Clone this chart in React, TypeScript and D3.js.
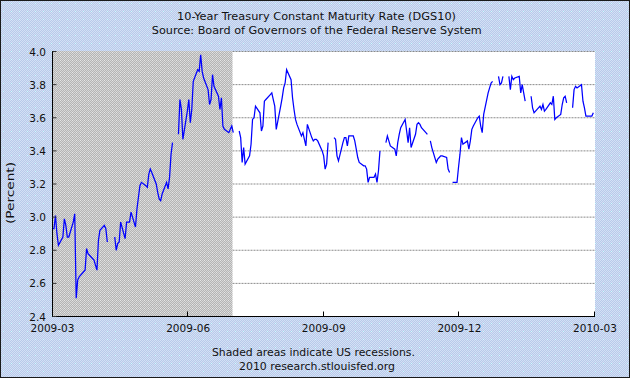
import React from "react";
import * as d3 from "d3";

const titleLines = [
  "10-Year Treasury Constant Maturity Rate (DGS10)",
  "Source: Board of Governors of the Federal Reserve System",
];
const footerLines = ["Shaded areas indicate US recessions.", "2010 research.stlouisfed.org"];
const yAxisLabel = "(Percent)";
const xTickLabels = ["2009-03", "2009-06", "2009-09", "2009-12", "2010-03"];
const yTicks = [2.4, 2.6, 2.8, 3.0, 3.2, 3.4, 3.6, 3.8, 4.0];
const xDomain = ["2009-03-02 00", "2010-03-03 03"];
const recession = ["2009-03-02 00", "2009-07-01 12"];

const dgs10: [string, number | null][] = [
  ["2009-03-02", 2.93], ["2009-03-03", 2.93], ["2009-03-04", 3.01], ["2009-03-05", 2.9], ["2009-03-06", 2.83],
  ["2009-03-09", 2.88], ["2009-03-10", 2.99], ["2009-03-11", 2.95], ["2009-03-12", 2.88], ["2009-03-13", 2.88],
  ["2009-03-16", 2.97], ["2009-03-17", 3.02], ["2009-03-18", 2.51], ["2009-03-19", 2.62], ["2009-03-20", 2.64],
  ["2009-03-23", 2.67], ["2009-03-24", 2.68], ["2009-03-25", 2.81], ["2009-03-26", 2.78], ["2009-03-27", 2.77],
  ["2009-03-30", 2.74], ["2009-03-31", 2.71], ["2009-04-01", 2.68], ["2009-04-02", 2.86], ["2009-04-03", 2.92],
  ["2009-04-06", 2.95], ["2009-04-07", 2.93], ["2009-04-08", 2.85], ["2009-04-09", null], ["2009-04-10", null],
  ["2009-04-13", 2.88], ["2009-04-14", 2.8], ["2009-04-15", 2.84], ["2009-04-16", 2.85], ["2009-04-17", 2.97],
  ["2009-04-20", 2.87], ["2009-04-21", 2.97], ["2009-04-22", 2.97], ["2009-04-23", 2.97], ["2009-04-24", 3.03],
  ["2009-04-27", 2.94], ["2009-04-28", 3.05], ["2009-04-29", 3.12], ["2009-04-30", 3.19], ["2009-05-01", 3.21],
  ["2009-05-04", 3.19], ["2009-05-05", 3.18], ["2009-05-06", 3.26], ["2009-05-07", 3.29], ["2009-05-08", 3.27],
  ["2009-05-11", 3.2], ["2009-05-12", 3.15], ["2009-05-13", 3.11], ["2009-05-14", 3.1], ["2009-05-15", 3.14],
  ["2009-05-18", 3.21], ["2009-05-19", 3.17], ["2009-05-20", 3.24], ["2009-05-21", 3.38], ["2009-05-22", 3.45],
  ["2009-05-25", null], ["2009-05-26", 3.5], ["2009-05-27", 3.71], ["2009-05-28", 3.65], ["2009-05-29", 3.47],
  ["2009-06-01", 3.64], ["2009-06-02", 3.71], ["2009-06-03", 3.57], ["2009-06-04", 3.65], ["2009-06-05", 3.82],
  ["2009-06-08", 3.89], ["2009-06-09", 3.88], ["2009-06-10", 3.98], ["2009-06-11", 3.88], ["2009-06-12", 3.84],
  ["2009-06-15", 3.77], ["2009-06-16", 3.68], ["2009-06-17", 3.71], ["2009-06-18", 3.86], ["2009-06-19", 3.79],
  ["2009-06-22", 3.73], ["2009-06-23", 3.65], ["2009-06-24", 3.72], ["2009-06-25", 3.55], ["2009-06-26", 3.53],
  ["2009-06-29", 3.51], ["2009-06-30", 3.53], ["2009-07-01", 3.55], ["2009-07-02", 3.51], ["2009-07-03", null],
  ["2009-07-06", 3.52], ["2009-07-07", 3.48], ["2009-07-08", 3.33], ["2009-07-09", 3.42], ["2009-07-10", 3.32],
  ["2009-07-13", 3.37], ["2009-07-14", 3.44], ["2009-07-15", 3.59], ["2009-07-16", 3.6], ["2009-07-17", 3.67],
  ["2009-07-20", 3.63], ["2009-07-21", 3.52], ["2009-07-22", 3.55], ["2009-07-23", 3.7], ["2009-07-24", 3.71],
  ["2009-07-27", 3.74], ["2009-07-28", 3.75], ["2009-07-29", 3.71], ["2009-07-30", 3.67], ["2009-07-31", 3.53],
  ["2009-08-03", 3.67], ["2009-08-04", 3.72], ["2009-08-05", 3.78], ["2009-08-06", 3.81], ["2009-08-07", 3.89],
  ["2009-08-10", 3.83], ["2009-08-11", 3.72], ["2009-08-12", 3.65], ["2009-08-13", 3.59], ["2009-08-14", 3.56],
  ["2009-08-17", 3.49], ["2009-08-18", 3.51], ["2009-08-19", 3.47], ["2009-08-20", 3.43], ["2009-08-21", 3.56],
  ["2009-08-24", 3.48], ["2009-08-25", 3.46], ["2009-08-26", 3.47], ["2009-08-27", 3.47], ["2009-08-28", 3.46],
  ["2009-08-31", 3.4], ["2009-09-01", 3.37], ["2009-09-02", 3.29], ["2009-09-03", 3.32], ["2009-09-04", 3.45],
  ["2009-09-07", null], ["2009-09-08", 3.48], ["2009-09-09", 3.47], ["2009-09-10", 3.37], ["2009-09-11", 3.34],
  ["2009-09-14", 3.45], ["2009-09-15", 3.48], ["2009-09-16", 3.48], ["2009-09-17", 3.43], ["2009-09-18", 3.49],
  ["2009-09-21", 3.49], ["2009-09-22", 3.46], ["2009-09-23", 3.41], ["2009-09-24", 3.36], ["2009-09-25", 3.33],
  ["2009-09-28", 3.31], ["2009-09-29", 3.31], ["2009-09-30", 3.29], ["2009-10-01", 3.21], ["2009-10-02", 3.24],
  ["2009-10-05", 3.24], ["2009-10-06", 3.26], ["2009-10-07", 3.21], ["2009-10-08", 3.28], ["2009-10-09", 3.4],
  ["2009-10-12", null], ["2009-10-13", 3.45], ["2009-10-14", 3.49], ["2009-10-15", 3.46], ["2009-10-16", 3.43],
  ["2009-10-19", 3.41], ["2009-10-20", 3.37], ["2009-10-21", 3.45], ["2009-10-22", 3.5], ["2009-10-23", 3.54],
  ["2009-10-26", 3.59], ["2009-10-27", 3.52], ["2009-10-28", 3.45], ["2009-10-29", 3.54], ["2009-10-30", 3.42],
  ["2009-11-02", 3.5], ["2009-11-03", 3.56], ["2009-11-04", 3.57], ["2009-11-05", 3.56], ["2009-11-06", 3.54],
  ["2009-11-09", 3.51], ["2009-11-10", 3.5], ["2009-11-11", null], ["2009-11-12", 3.46], ["2009-11-13", 3.42],
  ["2009-11-16", 3.33], ["2009-11-17", 3.35], ["2009-11-18", 3.36], ["2009-11-19", 3.37], ["2009-11-20", 3.37],
  ["2009-11-23", 3.36], ["2009-11-24", 3.29], ["2009-11-25", 3.27], ["2009-11-26", null], ["2009-11-27", 3.21],
  ["2009-11-30", 3.21], ["2009-12-01", 3.3], ["2009-12-02", 3.38], ["2009-12-03", 3.48], ["2009-12-04", 3.44],
  ["2009-12-07", 3.46], ["2009-12-08", 3.41], ["2009-12-09", 3.46], ["2009-12-10", 3.53], ["2009-12-11", 3.55],
  ["2009-12-14", 3.6], ["2009-12-15", 3.61], ["2009-12-16", 3.55], ["2009-12-17", 3.51], ["2009-12-18", 3.62],
  ["2009-12-21", 3.75], ["2009-12-22", 3.78], ["2009-12-23", 3.81], ["2009-12-24", 3.82], ["2009-12-25", null],
  ["2009-12-28", 3.85], ["2009-12-29", 3.8], ["2009-12-30", 3.81], ["2009-12-31", 3.85], ["2010-01-01", null],
  ["2010-01-04", 3.85], ["2010-01-05", 3.77], ["2010-01-06", 3.85], ["2010-01-07", 3.83], ["2010-01-08", 3.84],
  ["2010-01-11", 3.85], ["2010-01-12", 3.75], ["2010-01-13", 3.8], ["2010-01-14", 3.75], ["2010-01-15", 3.7],
  ["2010-01-18", null], ["2010-01-19", 3.73], ["2010-01-20", 3.66], ["2010-01-21", 3.63], ["2010-01-22", 3.64],
  ["2010-01-25", 3.67], ["2010-01-26", 3.65], ["2010-01-27", 3.68], ["2010-01-28", 3.64], ["2010-01-29", 3.65],
  ["2010-02-01", 3.69], ["2010-02-02", 3.68], ["2010-02-03", 3.73], ["2010-02-04", 3.59], ["2010-02-05", 3.6],
  ["2010-02-08", 3.62], ["2010-02-09", 3.68], ["2010-02-10", 3.72], ["2010-02-11", 3.73], ["2010-02-12", 3.69],
  ["2010-02-15", null], ["2010-02-16", 3.66], ["2010-02-17", 3.77], ["2010-02-18", 3.79], ["2010-02-19", 3.78],
  ["2010-02-22", 3.8], ["2010-02-23", 3.7], ["2010-02-24", 3.66], ["2010-02-25", 3.61], ["2010-02-26", 3.61],
  ["2010-03-01", 3.61], ["2010-03-02", 3.63],
];

type Pt = { date: Date; v: number | null };

export default function App() {
  const W = 630, H = 378;
  const L = 52.5, R = 595, T = 51.5, B = 316.5;
  const ph = d3.timeParse("%Y-%m-%d %H");
  const pd = d3.timeParse("%Y-%m-%d");
  const x = d3.scaleTime().domain([ph(xDomain[0])!, ph(xDomain[1])!]).range([L, R]);
  const y = d3.scaleLinear().domain([2.4, 4.0]).range([B, T]);
  const xt = d3.scaleLinear().domain([0, xTickLabels.length - 1]).range([L, R]);
  const data: Pt[] = dgs10.map(([d, v]) => ({ date: pd(d)!, v }));
  const line = d3
    .line<Pt>()
    .defined((d) => d.v != null)
    .x((d) => x(d.date))
    .y((d) => y(d.v as number));
  const rx0 = x(ph(recession[0])!);
  const rx1 = x(ph(recession[1])!);
  const font = "'DejaVu Sans', Verdana, sans-serif";

  const bgCells: JSX.Element[] = [];
  for (let i = 0; i < 8; i++)
    for (let j = 0; j < 8; j++)
      if ((i + j) % 2 === 0) bgCells.push(<rect key={i + "-" + j} x={i} y={j} width={1} height={1} fill="#D4E0F5" />);
  const grCells: JSX.Element[] = [];
  for (let i = 0; i < 4; i++)
    for (let j = 0; j < 4; j++)
      if ((i + j) % 2 === 0) grCells.push(<rect key={i + "-" + j} x={i} y={j} width={1} height={1} fill="#D8D8D8" />);

  return (
    <svg
      width={W}
      height={H}
      style={{ position: "absolute", left: 0, top: 0, display: "block" }}
      fontFamily={font}
    >
      <defs>
        <pattern id="bgPat" width={8} height={8} patternUnits="userSpaceOnUse">
          <g shapeRendering="crispEdges">
            <rect width={8} height={8} fill="#B8CAEA" />
            {bgCells}
            <rect x={3} y={3} width={1} height={1} fill="#CCFFFF" />
          </g>
        </pattern>
        <pattern id="recPat" width={4} height={4} patternUnits="userSpaceOnUse">
          <g shapeRendering="crispEdges">
            <rect width={4} height={4} fill="#B4B4B4" />
            {grCells}
            <rect x={0} y={0} width={1} height={1} fill="#E6E6E6" />
          </g>
        </pattern>
      </defs>
      <rect x={0} y={0} width={W} height={H} fill="url(#bgPat)" />
      <rect x={0.5} y={0.5} width={W - 1} height={H - 1} fill="none" stroke="#1a1a1a" strokeWidth={1} />

      {/* plot area */}
      <rect x={L} y={T} width={R - L} height={B - T} fill="#FFFFFF" />
      {yTicks.slice(1).map((t) => (
        <line key={"g" + t} x1={L} x2={R} y1={y(t)} y2={y(t)} stroke="#8A8A8A" strokeWidth={1} strokeDasharray="2 1" />
      ))}
      <rect x={rx0} y={T - 0.5} width={rx1 - rx0} height={B - T + 0.5} fill="url(#recPat)" />

      {/* series */}
      <path d={line(data) || ""} fill="none" stroke="#0000FF" strokeWidth={1.25} />

      {/* axes */}
      <line x1={L} x2={L} y1={T - 0.5} y2={B + 0.5} stroke="#000" strokeWidth={1} />
      <line x1={L} x2={R} y1={B} y2={B} stroke="#000" strokeWidth={1} />
      {yTicks.map((t) => (
        <g key={"y" + t}>
          <line x1={L} x2={L + 4} y1={y(t)} y2={y(t)} stroke="#333" strokeWidth={1} />
          <text x={46} y={y(t) + 4} textAnchor="end" fontSize={10.5} fill="#111">
            {t.toFixed(1)}
          </text>
        </g>
      ))}
      {xTickLabels.map((lab, i) => (
        <g key={"x" + lab}>
          {i > 0 && (
            <line x1={Math.round(xt(i)) - 0.5} x2={Math.round(xt(i)) - 0.5} y1={B} y2={B - 5} stroke="#000" strokeWidth={1} />
          )}
          <text x={xt(i)} y={332} textAnchor="middle" fontSize={10.5} fill="#111">
            {lab}
          </text>
        </g>
      ))}
      <text
        transform={`translate(14,193) rotate(-90)`}
        textAnchor="middle"
        fontSize={10.5}
        fill="#111"
        textLength={62}
        lengthAdjust="spacingAndGlyphs"
      >
        {yAxisLabel}
      </text>

      {/* titles */}
      <text x={316.5} y={20} textAnchor="middle" fontSize={11} fill="#111" textLength={279} lengthAdjust="spacingAndGlyphs">
        {titleLines[0]}
      </text>
      <text x={316.8} y={34} textAnchor="middle" fontSize={11} fill="#111" textLength={330} lengthAdjust="spacingAndGlyphs">
        {titleLines[1]}
      </text>
      <text x={313.4} y={356} textAnchor="middle" fontSize={11} fill="#111" textLength={203} lengthAdjust="spacingAndGlyphs">
        {footerLines[0]}
      </text>
      <text x={317} y={370} textAnchor="middle" fontSize={11} fill="#111" textLength={156} lengthAdjust="spacingAndGlyphs">
        {footerLines[1]}
      </text>
    </svg>
  );
}
